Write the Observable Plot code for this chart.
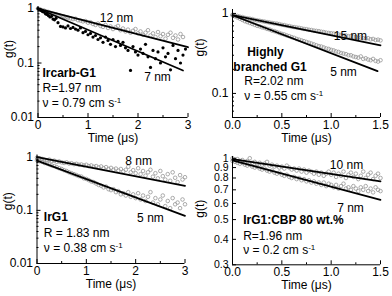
<!DOCTYPE html>
<html><head><meta charset="utf-8">
<script src="https://cdn.jsdelivr.net/npm/d3@7"></script>
<script src="https://cdn.jsdelivr.net/npm/@observablehq/plot@0.6"></script>
<style>
body{margin:0;background:#fff;}
#wrap{position:relative;width:392px;height:296px;overflow:hidden;font-family:"Liberation Sans",Arial,sans-serif;}
.panel{position:absolute;}
</style></head><body><div id="wrap"></div>
<script>
// ---------- Panel 1: Ircarb-G1 ----------
const ircarb7 = [[0,1.00],[0.03,0.95],[0.06,0.92],[0.09,0.88],[0.12,0.86],[0.15,0.80],[0.18,0.78],[0.21,0.74],[0.24,0.70],[0.27,0.72],[0.30,0.64],[0.33,0.62],[0.36,0.66],[0.40,0.55],[0.45,0.47],[0.50,0.46],[0.55,0.44],[0.60,0.48],[0.65,0.43],[0.70,0.45],[0.75,0.42],[0.80,0.40],[0.85,0.44],[0.90,0.36],[0.95,0.38],[1.00,0.33],[1.05,0.35],[1.10,0.30],[1.15,0.32],[1.20,0.27],[1.25,0.29],[1.30,0.24],[1.35,0.30],[1.40,0.26],[1.45,0.22],[1.50,0.27],[1.55,0.20],[1.60,0.25],[1.65,0.21],[1.70,0.24],[1.75,0.19],[1.80,0.17],[1.85,0.073],[1.90,0.20],[1.95,0.16],[2.00,0.14],[2.05,0.18],[2.10,0.15],[2.15,0.22],[2.20,0.13],[2.25,0.083],[2.30,0.17],[2.35,0.12],[2.40,0.16],[2.45,0.10],[2.50,0.19],[2.55,0.13],[2.60,0.15],[2.65,0.075],[2.70,0.21],[2.75,0.12],[2.80,0.17],[2.85,0.10],[2.90,0.14],[2.95,0.18]];
const ircarb12 = [[0,1.00],[0.04,0.97],[0.08,0.93],[0.12,0.92],[0.16,0.88],[0.20,0.87],[0.24,0.84],[0.28,0.82],[0.32,0.80],[0.36,0.79],[0.40,0.76],[0.44,0.74],[0.48,0.72],[0.52,0.71],[0.56,0.69],[0.60,0.68],[0.65,0.66],[0.70,0.64],[0.75,0.65],[0.80,0.61],[0.85,0.60],[0.90,0.58],[0.95,0.59],[1.00,0.55],[1.05,0.56],[1.10,0.52],[1.15,0.50],[1.20,0.53],[1.25,0.48],[1.30,0.46],[1.35,0.50],[1.40,0.44],[1.45,0.47],[1.50,0.42],[1.55,0.45],[1.60,0.48],[1.65,0.40],[1.70,0.43],[1.75,0.38],[1.80,0.41],[1.85,0.36],[1.90,0.39],[1.95,0.42],[2.00,0.35],[2.05,0.38],[2.10,0.33],[2.15,0.36],[2.20,0.40],[2.25,0.32],[2.30,0.35],[2.35,0.30],[2.40,0.37],[2.45,0.31],[2.50,0.34],[2.55,0.28],[2.60,0.33],[2.65,0.36],[2.70,0.29],[2.75,0.32],[2.80,0.27],[2.85,0.34],[2.90,0.30]];
const ircarbFit12 = [[0,1.0],[3,0.195]];
const ircarbFit7 = [[0,1.0],[2.9,0.073]];
const ircarbNotes = [{t:1.57,g:0.68,s:"12 nm"},{t:2.39,g:0.054,s:"7 nm"}];
const ircarbTitle = [{t:0.09,g:0.064,s:"Ircarb-G1"}];
const ircarbInfo = [{t:0.09,g:0.034,s:"R=1.97 nm"},{t:0.09,g:0.018,s:"\u03bd = 0.79 cm s^-1"}];

// ---------- Panel 2: Highly branched G1 ----------
const hb15 = [[0,0.96],[0.025,0.94],[0.05,0.93],[0.075,0.91],[0.1,0.90],[0.125,0.88],[0.15,0.87],[0.175,0.86],[0.2,0.85],[0.225,0.83],[0.25,0.82],[0.275,0.81],[0.3,0.80],[0.325,0.79],[0.35,0.78],[0.375,0.77],[0.4,0.76],[0.425,0.75],[0.45,0.745],[0.475,0.735],[0.5,0.72],[0.525,0.715],[0.55,0.70],[0.575,0.695],[0.6,0.68],[0.625,0.675],[0.65,0.665],[0.675,0.66],[0.7,0.65],[0.725,0.64],[0.75,0.635],[0.775,0.625],[0.8,0.62],[0.825,0.61],[0.85,0.605],[0.875,0.60],[0.9,0.59],[0.925,0.585],[0.95,0.575],[0.975,0.57],[1.0,0.565],[1.025,0.56],[1.05,0.55],[1.075,0.545],[1.1,0.54],[1.125,0.535],[1.15,0.53],[1.175,0.52],[1.2,0.52],[1.225,0.51],[1.25,0.505],[1.275,0.50],[1.3,0.50],[1.325,0.49],[1.35,0.485],[1.375,0.49],[1.4,0.475],[1.425,0.48],[1.45,0.465],[1.475,0.47],[1.5,0.46]];
const hb5 = [[0,0.95],[0.025,0.92],[0.05,0.89],[0.075,0.86],[0.1,0.83],[0.125,0.80],[0.15,0.78],[0.175,0.76],[0.2,0.74],[0.225,0.72],[0.25,0.70],[0.275,0.69],[0.3,0.67],[0.325,0.66],[0.35,0.64],[0.375,0.63],[0.4,0.61],[0.425,0.60],[0.45,0.585],[0.475,0.57],[0.5,0.555],[0.525,0.545],[0.55,0.53],[0.575,0.52],[0.6,0.505],[0.625,0.495],[0.65,0.48],[0.675,0.47],[0.7,0.46],[0.725,0.45],[0.75,0.44],[0.775,0.43],[0.8,0.42],[0.825,0.41],[0.85,0.40],[0.875,0.39],[0.9,0.385],[0.925,0.375],[0.95,0.365],[0.975,0.36],[1.0,0.35],[1.025,0.345],[1.05,0.335],[1.075,0.33],[1.1,0.32],[1.125,0.315],[1.15,0.31],[1.175,0.30],[1.2,0.30],[1.225,0.29],[1.25,0.285],[1.275,0.28],[1.3,0.29],[1.325,0.27],[1.35,0.275],[1.375,0.265],[1.4,0.26],[1.425,0.27],[1.45,0.255],[1.475,0.25],[1.5,0.26]];
const hbFit15 = [[0,0.95],[1.5,0.40]];
const hbFit5 = [[0,0.95],[1.47,0.19]];
const hbNotes = [{t:1.195,g:0.516,s:"15 nm"},{t:1.125,g:0.183,s:"5 nm"}];
const hbTitle = [{t:0.334,g:0.326,s:"Highly"},{t:0.38,g:0.214,s:"branched G1"}];
const hbInfo = [{t:0.12,g:0.141,s:"R=2.02 nm"},{t:0.12,g:0.092,s:"\u03bd = 0.55 cm s^-1"}];

// ---------- Panel 3: IrG1 ----------
const irg1_8 = [[0,0.98],[0.05,0.95],[0.1,0.93],[0.15,0.90],[0.2,0.88],[0.25,0.90],[0.3,0.85],[0.35,0.86],[0.4,0.82],[0.45,0.83],[0.5,0.80],[0.55,0.78],[0.6,0.80],[0.65,0.76],[0.7,0.77],[0.75,0.74],[0.8,0.75],[0.85,0.72],[0.9,0.73],[0.95,0.70],[1.0,0.72],[1.05,0.68],[1.1,0.70],[1.15,0.66],[1.2,0.68],[1.25,0.64],[1.3,0.67],[1.35,0.62],[1.4,0.65],[1.45,0.60],[1.5,0.63],[1.55,0.58],[1.6,0.61],[1.65,0.56],[1.7,0.60],[1.75,0.54],[1.8,0.58],[1.85,0.66],[1.9,0.52],[1.95,0.57],[2.0,0.50],[2.05,0.62],[2.1,0.48],[2.15,0.55],[2.2,0.45],[2.25,0.52],[2.3,0.58],[2.35,0.43],[2.4,0.50],[2.45,0.40],[2.5,0.55],[2.55,0.44],[2.6,0.38],[2.65,0.48],[2.7,0.36],[2.75,0.52],[2.8,0.41],[2.85,0.34],[2.9,0.46],[2.95,0.38],[3.0,0.42]];
const irg1_5 = [[0,0.88],[0.05,0.84],[0.1,0.82],[0.15,0.78],[0.2,0.76],[0.25,0.73],[0.3,0.70],[0.35,0.68],[0.4,0.65],[0.45,0.62],[0.5,0.60],[0.55,0.57],[0.6,0.55],[0.65,0.52],[0.7,0.50],[0.75,0.48],[0.8,0.46],[0.85,0.44],[0.9,0.43],[0.95,0.40],[1.0,0.39],[1.05,0.37],[1.1,0.35],[1.15,0.34],[1.2,0.32],[1.25,0.30],[1.3,0.29],[1.35,0.27],[1.4,0.28],[1.45,0.25],[1.5,0.24],[1.55,0.25],[1.6,0.22],[1.65,0.23],[1.7,0.20],[1.75,0.21],[1.8,0.19],[1.85,0.22],[1.9,0.18],[1.95,0.20],[2.0,0.17],[2.05,0.21],[2.1,0.16],[2.15,0.19],[2.2,0.15],[2.25,0.18],[2.3,0.22],[2.35,0.14],[2.4,0.17],[2.45,0.13],[2.5,0.16],[2.55,0.19],[2.6,0.12],[2.65,0.15],[2.7,0.11],[2.75,0.17],[2.8,0.13],[2.85,0.14],[2.9,0.11],[2.95,0.16],[3.0,0.13]];
const irg1Fit8 = [[0,1.0],[3,0.29]];
const irg1Fit5 = [[0,0.86],[3,0.079]];
const irg1Notes = [{t:2.06,g:0.83,s:"8 nm"},{t:2.30,g:0.0713,s:"5 nm"}];
const irg1Title = [{t:0.138,g:0.0748,s:"IrG1"}];
const irg1Info = [{t:0.138,g:0.0373,s:"R = 1.83 nm"},{t:0.138,g:0.0195,s:"\u03bd = 0.38 cm s^-1"}];

// ---------- Panel 4: IrG1:CBP 80 wt.% ----------
const cbp10 = [[0,1.00],[0.025,0.98],[0.05,0.99],[0.075,0.97],[0.1,0.98],[0.125,0.96],[0.15,0.97],[0.175,1.00],[0.2,0.95],[0.225,0.96],[0.25,0.94],[0.275,0.95],[0.3,0.93],[0.325,0.94],[0.35,0.96],[0.375,0.92],[0.4,0.93],[0.425,0.91],[0.45,0.92],[0.475,0.90],[0.5,0.91],[0.525,0.89],[0.55,0.92],[0.575,0.90],[0.6,0.88],[0.625,0.89],[0.65,0.87],[0.675,0.89],[0.7,0.86],[0.725,0.88],[0.75,0.85],[0.775,0.87],[0.8,0.86],[0.825,0.84],[0.85,0.86],[0.875,0.83],[0.9,0.85],[0.925,0.82],[0.95,0.84],[0.975,0.86],[1.0,0.83],[1.025,0.85],[1.05,0.81],[1.075,0.84],[1.1,0.82],[1.125,0.86],[1.15,0.80],[1.175,0.83],[1.2,0.85],[1.225,0.81],[1.25,0.84],[1.275,0.79],[1.3,0.82],[1.325,0.86],[1.35,0.80],[1.375,0.83],[1.4,0.85],[1.425,0.79],[1.45,0.82],[1.475,0.84],[1.5,0.80]];
const cbp7 = [[0,0.97],[0.025,0.96],[0.05,0.95],[0.075,0.94],[0.1,0.95],[0.125,0.93],[0.15,0.92],[0.175,0.93],[0.2,0.91],[0.225,0.90],[0.25,0.91],[0.275,0.89],[0.3,0.88],[0.325,0.89],[0.35,0.87],[0.375,0.86],[0.4,0.87],[0.425,0.85],[0.45,0.84],[0.475,0.85],[0.5,0.83],[0.525,0.82],[0.55,0.83],[0.575,0.81],[0.6,0.80],[0.625,0.81],[0.65,0.79],[0.675,0.80],[0.7,0.78],[0.725,0.79],[0.75,0.77],[0.775,0.78],[0.8,0.76],[0.825,0.77],[0.85,0.75],[0.875,0.76],[0.9,0.74],[0.925,0.76],[0.95,0.73],[0.975,0.75],[1.0,0.74],[1.025,0.72],[1.05,0.74],[1.075,0.71],[1.1,0.73],[1.125,0.75],[1.15,0.71],[1.175,0.72],[1.2,0.70],[1.225,0.73],[1.25,0.71],[1.275,0.69],[1.3,0.72],[1.325,0.70],[1.35,0.73],[1.375,0.69],[1.4,0.71],[1.425,0.68],[1.45,0.72],[1.475,0.70],[1.5,0.69]];
const cbpFit10 = [[0,0.99],[1.5,0.77]];
const cbpFit7 = [[0,0.975],[1.5,0.625]];
const cbpNotes = [{t:1.155,g:0.928,s:"10 nm"},{t:1.196,g:0.569,s:"7 nm"}];
const cbpTitle = [{t:0.108,g:0.495,s:"IrG1:CBP 80 wt.%"}];
const cbpInfo = [{t:0.108,g:0.416,s:"R=1.96 nm"},{t:0.108,g:0.353,s:"\u03bd = 0.2 cm s^-1"}];

// ---------- Tick values ----------
const xTicks3 = [0,1,2,3], xMinor3 = [0.5,1.5,2.5];
const xTicks15 = [0,0.5,1.0,1.5], xMinor15 = [0.25,0.75,1.25];
const yTicksDec2 = [0.01,0.1,1];
const yMinorDec2 = [0.02,0.03,0.04,0.05,0.06,0.07,0.08,0.09,0.2,0.3,0.4,0.5,0.6,0.7,0.8,0.9];
const yTicksHB = [0.1,1];
const yMinorHB = [0.05,0.06,0.07,0.08,0.09,0.2,0.3,0.4,0.5,0.6,0.7,0.8,0.9];
const yTicksCBP = [0.3,0.4,0.5,0.6,0.7,0.8,0.9,1];

const FONT = '"Liberation Sans", Arial, sans-serif';
const X = d => d[0], Y = d => d[1];
const blank = () => "";

function panel(cfg) {
  const marks = [
    Plot.dot(cfg.open, {x: X, y: Y, r: 1.8, stroke: "#959595", strokeWidth: 0.8, fill: "none"}),
    Plot.dot(cfg.filled || [], {x: X, y: Y, r: 1.6, fill: "#000", stroke: "none"}),
    ...cfg.fits.map(f => Plot.line(f, {x: X, y: Y, stroke: "#000", strokeWidth: 1.8})),
    Plot.ruleX([cfg.xDomain[0]], {stroke: "#000", strokeWidth: 1}),
    Plot.ruleY([cfg.yDomain[0]], {stroke: "#000", strokeWidth: 1}),
    Plot.axisX(cfg.xTicks, {tickSize: -4, tickPadding: 7, tickFormat: cfg.xFmt, fontSize: 12, label: null}),
    Plot.axisX(cfg.xMinor, {tickSize: -2, tickPadding: 0, tickFormat: blank, label: null}),
    Plot.axisY(cfg.yTicks, {tickSize: -4, tickPadding: 0, tickFormat: blank, label: null}),
    Plot.axisY(cfg.yMinor || [], {tickSize: -2, tickPadding: 0, tickFormat: blank, label: null}),
    Plot.text(cfg.yTicks, {y: d => d, text: cfg.yFmt, frameAnchor: "left", dx: -4, textAnchor: "end", lineAnchor: "middle", fontSize: cfg.yFont || 12, fill: "#000"}),
    Plot.text(cfg.notes, {x: "t", y: "g", text: "s", fontSize: 12, fill: "#000"}),
    Plot.text(cfg.title, {x: "t", y: "g", text: "s", fontSize: 12, fontWeight: "bold", fill: "#000", textAnchor: cfg.titleAnchor || "start"}),
    Plot.text(cfg.info, {x: "t", y: "g", text: "s", fontSize: 12, fill: "#000", textAnchor: "start"}),
    Plot.text(["Time (\u03bcs)"], {frameAnchor: "bottom", dy: 24, fontSize: 12, fill: "#000"}),
    Plot.text(["g(t)"], {frameAnchor: "left", dx: cfg.gdx, dy: cfg.gdy, rotate: -90, fontSize: 12, fill: "#000"})
  ];
  const svg = Plot.plot({
    width: cfg.w, height: cfg.h,
    marginLeft: cfg.ml, marginRight: cfg.mr, marginTop: cfg.mt, marginBottom: cfg.mb,
    x: {domain: cfg.xDomain, axis: null},
    y: {type: "log", domain: cfg.yDomain, axis: null},
    style: {fontFamily: FONT, fontSize: "12px", background: "transparent", overflow: "visible", color: "#000"},
    marks
  });
  d3.select(svg).selectAll("text").each(function() {
    const t = this.textContent;
    if (t.includes("^")) {
      const [base, sup] = t.split("^");
      this.textContent = base;
      d3.select(this).append("tspan").attr("dy", "-0.5em").attr("font-size", "8px").text(sup);
    }
  });
  svg.classList.add("panel");
  svg.style.left = cfg.left + "px";
  svg.style.top = cfg.top + "px";
  svg.style.position = "absolute";
  document.getElementById("wrap").appendChild(svg);
}

const fmtPlain = d => String(d);
const fmt1 = d3.format(".1f");

panel({left: 0, top: 0, w: 196, h: 148, ml: 37.5, mr: 8.5, mt: 6, mb: 31,
  xDomain: [0, 3], yDomain: [0.01, 1.09], xTicks: xTicks3, xMinor: xMinor3, xFmt: fmtPlain,
  yTicks: yTicksDec2, yMinor: yMinorDec2, yFmt: fmtPlain,
  open: ircarb12, filled: ircarb7, fits: [ircarbFit12, ircarbFit7],
  notes: ircarbNotes, title: ircarbTitle, info: ircarbInfo, gdx: -29, gdy: -4});

panel({left: 196, top: 0, w: 196, h: 148, ml: 36, mr: 12, mt: 9, mb: 31,
  xDomain: [0, 1.5], yDomain: [0.05, 1.12], xTicks: xTicks15, xMinor: xMinor15, xFmt: fmt1,
  yTicks: yTicksHB, yMinor: yMinorHB, yFmt: fmtPlain,
  open: [...hb15, ...hb5], fits: [hbFit15, hbFit5],
  notes: hbNotes, title: hbTitle, titleAnchor: "middle", info: hbInfo, gdx: -32, gdy: -7});

panel({left: 0, top: 148, w: 196, h: 148, ml: 36.5, mr: 11.5, mt: 6.5, mb: 33,
  xDomain: [0, 3], yDomain: [0.01, 1.1], xTicks: xTicks3, xMinor: xMinor3, xFmt: fmtPlain,
  yTicks: yTicksDec2, yMinor: yMinorDec2, yFmt: fmtPlain,
  open: [...irg1_8, ...irg1_5], fits: [irg1Fit8, irg1Fit5],
  notes: irg1Notes, title: irg1Title, info: irg1Info, gdx: -29, gdy: 1});

panel({left: 196, top: 148, w: 196, h: 148, ml: 36, mr: 12, mt: 8, mb: 31.7,
  xDomain: [0, 1.5], yDomain: [0.3, 1.02], xTicks: xTicks15, xMinor: xMinor15, xFmt: fmt1,
  yTicks: yTicksCBP, yFmt: d => d === 1 ? "1" : fmt1(d), yFont: 10.5,
  open: [...cbp10, ...cbp7], fits: [cbpFit10, cbpFit7],
  notes: cbpNotes, title: cbpTitle, info: cbpInfo, gdx: -32, gdy: 7});
</script></body></html>
